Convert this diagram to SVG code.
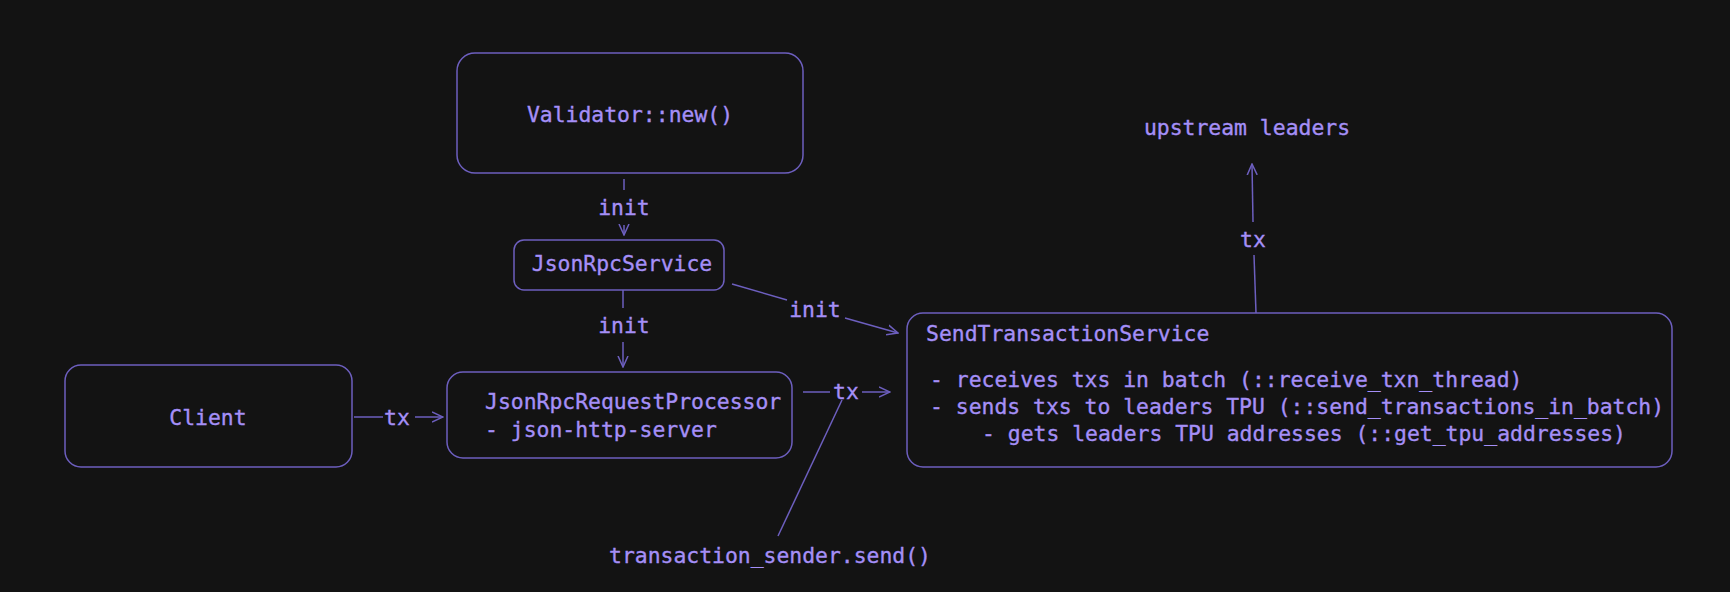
<svg xmlns="http://www.w3.org/2000/svg" width="1730" height="592" viewBox="0 0 1730 592">
<defs>
<marker id="arr" viewBox="0 0 12 12" markerWidth="12" markerHeight="12" refX="11" refY="6" orient="auto" markerUnits="userSpaceOnUse">
<path d="M0,1 L11,6 L0,11" fill="none" stroke="#6d5fbf" stroke-width="1.5"/>
</marker>
<style>
.box{fill:#131313;stroke:#6d5fbf;stroke-width:1.5}
.t{font-family:"DejaVu Sans Mono","Liberation Mono",monospace;font-size:21.4px;fill:#a58ff7;stroke:#a58ff7;stroke-width:0.35}
.c{text-anchor:middle}
.ln{fill:none;stroke:#6d5fbf;stroke-width:1.5}
</style>
</defs>
<rect width="1730" height="592" fill="#131313"/>
<g id="validator">
<rect class="box" x="457" y="53" width="346" height="120" rx="18"/>
<text class="t c" x="630" y="122">Validator::new()</text>
</g>
<g id="jsonrpcservice">
<rect class="box" x="514" y="240" width="210" height="50" rx="10"/>
<text class="t c" x="622" y="271">JsonRpcService</text>
</g>
<g id="client">
<rect class="box" x="65" y="365" width="287" height="102" rx="16"/>
<text class="t c" x="208" y="425">Client</text>
</g>
<g id="jsonrpcrequestprocessor">
<rect class="box" x="447" y="372" width="345" height="86" rx="16"/>
<text class="t" x="485" y="409">JsonRpcRequestProcessor</text>
<text class="t" x="485" y="437">- json-http-server</text>
</g>
<g id="sendtransactionservice">
<rect class="box" x="907" y="313" width="765" height="154" rx="16"/>
<text class="t" x="926" y="341">SendTransactionService</text>
<text class="t" x="930" y="387">- receives txs in batch (::receive_txn_thread)</text>
<text class="t" x="930" y="414">- sends txs to leaders TPU (::send_transactions_in_batch)</text>
<text class="t" x="982" y="441">- gets leaders TPU addresses (::get_tpu_addresses)</text>
</g>
<g id="upstream">
<text class="t c" x="1247" y="135">upstream leaders</text>
</g>
<g id="sender">
<text class="t c" x="770" y="563">transaction_sender.send()</text>
</g>
<g id="connectors">
<line class="ln" x1="624" y1="179" x2="624" y2="190"/>
<line class="ln" x1="624" y1="225" x2="624" y2="235" marker-end="url(#arr)"/>
<text class="t c" x="624" y="215">init</text>
<line class="ln" x1="623" y1="290" x2="623" y2="308"/>
<line class="ln" x1="623" y1="342" x2="623" y2="367" marker-end="url(#arr)"/>
<text class="t c" x="624" y="333">init</text>
<line class="ln" x1="732" y1="284" x2="787" y2="300"/>
<line class="ln" x1="845" y1="318" x2="898" y2="333" marker-end="url(#arr)"/>
<text class="t c" x="815" y="317">init</text>
<line class="ln" x1="354" y1="417" x2="383" y2="417"/>
<line class="ln" x1="415" y1="417" x2="443" y2="417" marker-end="url(#arr)"/>
<text class="t c" x="397" y="425">tx</text>
<line class="ln" x1="803" y1="392" x2="830" y2="392"/>
<line class="ln" x1="862" y1="392" x2="890" y2="392" marker-end="url(#arr)"/>
<text class="t c" x="846" y="399">tx</text>
<line class="ln" x1="842" y1="400" x2="778" y2="536"/>
<line class="ln" x1="1256" y1="313" x2="1254" y2="255"/>
<line class="ln" x1="1253" y1="222" x2="1252" y2="164" marker-end="url(#arr)"/>
<text class="t c" x="1253" y="247">tx</text>
</g>
</svg>
